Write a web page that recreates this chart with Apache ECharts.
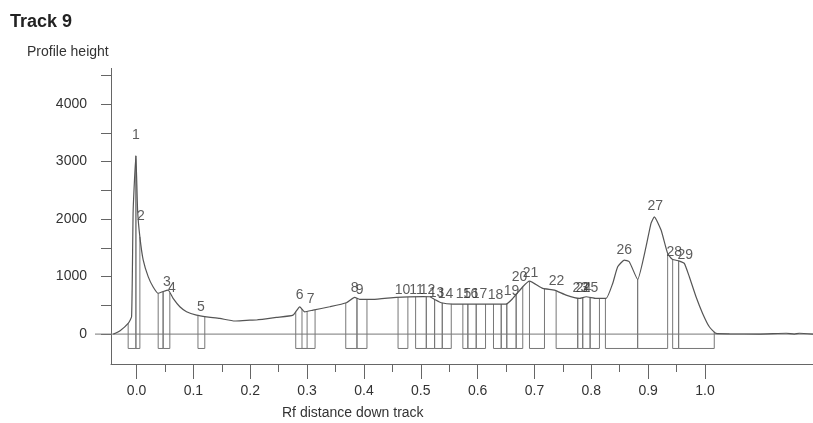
<!DOCTYPE html>
<html>
<head>
<meta charset="utf-8">
<script src="https://cdn.jsdelivr.net/npm/echarts@6/dist/echarts.min.js"></script>
<style>html,body{margin:0;padding:0;background:#fff;}#c{width:813px;height:423px;}</style>
</head>
<body>
<div id="c"></div>
<script>
// ---- data ----
const PROFILE_RF = [-0.041, -0.029, -0.0148, -0.0088, -0.006, -0.0012, 0.0018, 0.0058, 0.0116, 0.0204, 0.0292, 0.038, 0.0467, 0.0555, 0.0643, 0.0761, 0.0879, 0.1054, 0.123, 0.1464, 0.1728, 0.1933, 0.2109, 0.246, 0.2752, 0.287, 0.2958, 0.3104, 0.3397, 0.369, 0.3837, 0.3924, 0.4158, 0.457, 0.5037, 0.5155, 0.5243, 0.536, 0.5564, 0.6033, 0.6503, 0.6619, 0.6794, 0.6912, 0.7146, 0.7351, 0.7557, 0.7791, 0.7909, 0.8084, 0.826, 0.8376, 0.8464, 0.858, 0.8668, 0.8815, 0.8963, 0.905, 0.9109, 0.9227, 0.9343, 0.9425, 0.955, 0.9636, 0.9724, 0.9842, 0.9958, 1.0076, 1.0193, 1.043, 1.095, 1.143, 1.157, 1.166, 1.19];
const PROFILE_H = [0, 60, 186, 300, 2150, 3100, 2150, 1690, 1290, 1000, 820, 710, 740, 765, 620, 475, 390, 330, 300, 272, 228, 240, 245, 290, 330, 475, 388, 417, 475, 545, 640, 605, 605, 640, 650, 649, 603, 545, 522, 522, 522, 620, 823, 920, 794, 765, 678, 620, 649, 620, 620, 881, 1170, 1287, 1258, 950, 1520, 1925, 2040, 1809, 1403, 1300, 1270, 1229, 997, 649, 360, 127, 12, 5, 0, 15, 0, 15, 0];

const PEAK_LABELS = ['1','2','3','4','5','6','7','8','9','10','11','12','13','14','15','16','17','18','19','20','21','22','23','24','25','26','27','28','29'];
const LABEL_RF = [-0.0012, 0.0076, 0.0532, 0.062, 0.113, 0.287, 0.3064, 0.3837, 0.3924, 0.468, 0.4927, 0.5119, 0.5278, 0.5436, 0.5752, 0.5875, 0.6033, 0.6315, 0.6597, 0.6737, 0.693, 0.7386, 0.7808, 0.7861, 0.7984, 0.858, 0.9126, 0.946, 0.9654];
const LABEL_H = [3461, 2052, 904, 800, 470, 678, 609, 800, 765, 765, 765, 765, 713, 696, 696, 696, 696, 678, 748, 991, 1061, 922, 800, 800, 800, 1461, 2226, 1426, 1374];

const BOX_START = [-0.0148, -0.0012, 0.038, 0.0467, 0.108, 0.280, 0.291, 0.368, 0.3877, 0.460, 0.4909, 0.5097, 0.5243, 0.5378, 0.574, 0.5828, 0.5975, 0.6279, 0.6415, 0.6513, 0.6678, 0.6912, 0.7381, 0.7761, 0.7849, 0.7979, 0.8248, 0.8815, 0.9431, 0.9536];
const BOX_END   = [-0.0012, 0.0058, 0.0467, 0.0585, 0.120, 0.300, 0.314, 0.3877, 0.4053, 0.4773, 0.5097, 0.5243, 0.5378, 0.5536, 0.5828, 0.5975, 0.6139, 0.6415, 0.6513, 0.6678, 0.6794, 0.7176, 0.7761, 0.7849, 0.7979, 0.8143, 0.8815, 0.9343, 0.9536, 1.0163];
const BOX_FLOOR = -250;

const X_MIN = -0.045, X_MAX = 1.19;
const Y_MIN = -520, Y_MAX = 4620;
const X_MAJOR = [0, 0.1, 0.2, 0.3, 0.4, 0.5, 0.6, 0.7, 0.8, 0.9, 1.0];
const X_MINOR = [0.05, 0.15, 0.25, 0.35, 0.45, 0.55, 0.65, 0.75, 0.85, 0.95];
const Y_TICKS = [0, 500, 1000, 1500, 2000, 2500, 3000, 3500, 4000, 4500];
const Y_LABELS = [0, 1000, 2000, 3000, 4000];

// ---- helpers ----
function profileAt(r) {
  if (r <= PROFILE_RF[0]) return PROFILE_H[0];
  for (let i = 1; i < PROFILE_RF.length; i++) {
    if (r <= PROFILE_RF[i]) {
      const t = (r - PROFILE_RF[i-1]) / (PROFILE_RF[i] - PROFILE_RF[i-1]);
      return PROFILE_H[i-1] + t * (PROFILE_H[i] - PROFILE_H[i-1]);
    }
  }
  return PROFILE_H[PROFILE_H.length - 1];
}

const FONT = 'Liberation Sans, Arial, sans-serif';
const LINE = '#666';
const TEXT = '#333';

const chart = echarts.init(document.getElementById('c'), null, {renderer: 'canvas'});
chart.setOption({
  animation: false,
  backgroundColor: '#fff',
  title: [
    {text: 'Track 9', left: 10, top: 13, padding: 0, textStyle: {fontSize: 18, fontWeight: 'bold', color: '#222', fontFamily: FONT}},
    {text: 'Profile height', left: 27, top: 45, padding: 0, textStyle: {fontSize: 14, fontWeight: 'normal', color: TEXT, fontFamily: FONT}},
    {text: 'Rf distance down track', left: 282, top: 406, padding: 0, textStyle: {fontSize: 14, fontWeight: 'normal', color: TEXT, fontFamily: FONT}}
  ],
  grid: {left: 111, right: 0, top: 68.4, bottom: 59, containLabel: false},
  xAxis: [
    {type: 'value', min: X_MIN, max: X_MAX, position: 'bottom',
     axisLine: {show: true, onZero: false, lineStyle: {color: LINE, width: 1}},
     axisTick: {show: true, length: 15, customValues: X_MAJOR, lineStyle: {color: LINE}},
     axisLabel: {customValues: X_MAJOR, formatter: v => v.toFixed(1), fontSize: 14, color: TEXT, margin: 20, fontFamily: FONT},
     splitLine: {show: false}},
    {type: 'value', min: X_MIN, max: X_MAX, position: 'bottom',
     axisLine: {show: false, onZero: false},
     axisTick: {show: true, length: 8, customValues: X_MINOR, lineStyle: {color: LINE}},
     axisLabel: {show: false},
     splitLine: {show: false}}
  ],
  yAxis: {type: 'value', min: Y_MIN, max: Y_MAX,
    axisLine: {show: true, onZero: false, lineStyle: {color: LINE, width: 1}},
    axisTick: {show: true, length: 10, customValues: Y_TICKS, lineStyle: {color: LINE}},
    axisLabel: {customValues: Y_LABELS, formatter: v => String(v), fontSize: 14, color: TEXT, margin: 24, fontFamily: FONT},
    splitLine: {show: false}},
  series: [
    {type: 'custom', name: 'baseline', xAxisIndex: 0, clip: false, silent: true,
     data: [[X_MIN, X_MAX]],
     renderItem: function (params, api) {
       const a = api.coord([api.value(0), 0]);
       const b = api.coord([api.value(1), 0]);
       return {type: 'line', shape: {x1: a[0] - 16, y1: a[1], x2: b[0], y2: b[1]}, style: {stroke: '#777', lineWidth: 1}};
     }},
    {type: 'custom', name: 'boxes', xAxisIndex: 0, silent: true,
     data: BOX_START.map((s, i) => [s, BOX_END[i]]),
     renderItem: function (params, api) {
       const s = api.value(0), e = api.value(1);
       const pts = [api.coord([s, profileAt(s)]), api.coord([s, BOX_FLOOR]), api.coord([e, BOX_FLOOR]), api.coord([e, profileAt(e)])];
       return {type: 'polyline', shape: {points: pts}, style: {stroke: '#777', fill: null, lineWidth: 1}};
     }},
    {type: 'line', name: 'profile', xAxisIndex: 0, symbol: 'none', smooth: 0.15,
     lineStyle: {color: '#555', width: 1.2},
     data: PROFILE_RF.map((r, i) => [r, PROFILE_H[i]])},
    {type: 'scatter', name: 'labels', xAxisIndex: 0, symbolSize: 0, silent: true,
     data: LABEL_RF.map((r, i) => ({value: [r, LABEL_H[i]], name: PEAK_LABELS[i]})),
     label: {show: true, position: 'inside', formatter: '{b}', fontSize: 14, color: TEXT, fontFamily: FONT}}
  ]
});
</script>
</body>
</html>
